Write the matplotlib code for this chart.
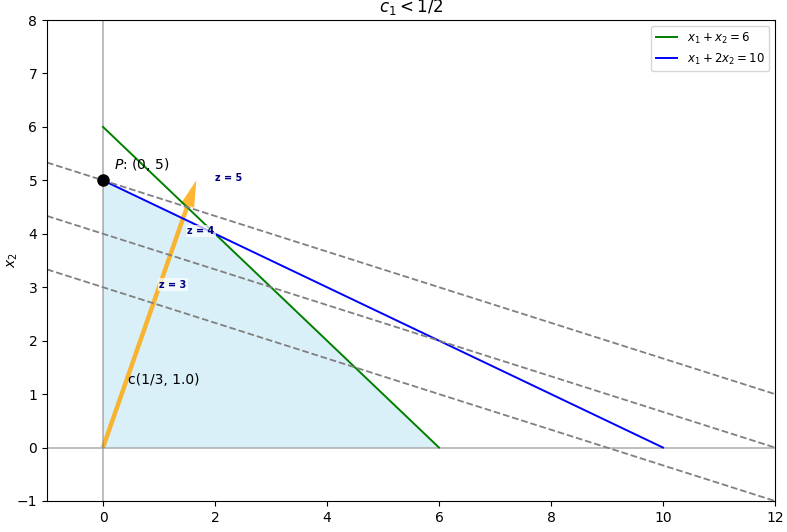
import numpy as np
import matplotlib
matplotlib.use("Agg")
import matplotlib.pyplot as plt

# objective c = (c1, c2), c1 < 1/2
c1, c2 = 1 / 3, 1.0
z_levels = [3, 4, 5]
z_label_x = [1.25, 1.75, 2.25]
z_label_y = [3.05, 4.05, 5.05]

# feasible region vertices
region_x = [0, 6, 2, 0]
region_y = [0, 0, 4, 5]

p_opt = (0, 5)

fig = plt.figure(figsize=(7.87, 5.32), dpi=100)
ax = fig.add_axes((47 / 787, 1 - 501 / 532, 728 / 787, 481 / 532))

ax.axhline(0, color="gray", linewidth=1.2, alpha=0.6)
ax.axvline(0, color="gray", linewidth=1.2, alpha=0.6)

ax.fill(region_x, region_y, color="skyblue", alpha=0.3, linewidth=0)

x_g = np.linspace(0, 6, 50)
ax.plot(x_g, 6 - x_g, color="green", linewidth=1.4, label=r"$x_1 + x_2 = 6$")
x_b = np.linspace(0, 10, 50)
ax.plot(x_b, (10 - x_b) / 2, color="blue", linewidth=1.4, label=r"$x_1 + 2x_2 = 10$")

x_all = np.linspace(-1, 12, 100)
for z, lx, ly in zip(z_levels, z_label_x, z_label_y):
    ax.plot(x_all, (z - c1 * x_all) / c2, color="gray", linestyle="--", linewidth=1.3)
    ax.text(lx, ly, f"z = {z}", color="navy", fontsize=7, fontweight="bold",
            ha="center", va="center",
            bbox=dict(facecolor="white", edgecolor="none", alpha=0.7, pad=1))

scale = 5
ax.arrow(0, 0, c1 * scale, c2 * scale, width=0.08, head_width=0.25, head_length=0.5,
         length_includes_head=True, color="orange", alpha=0.8, linewidth=0)
ax.text(0.45, 1.27, f"c({'1/3'}, {c2})", fontsize=10, va="center")

ax.plot(*p_opt, "o", color="black", markersize=8)
ax.text(0.2, 5.3, r"$P$: (0, 5)", fontsize=10, va="center")

ax.set_xlim(-1, 12)
ax.set_ylim(-1, 8)
ax.set_xlabel(r"$x_1$")
ax.set_ylabel(r"$x_2$", labelpad=-2)
ax.set_title(r"$c_1 < 1/2$", fontsize=12)
ax.legend(loc="upper right", fontsize=8.5, handlelength=1.8)

fig.savefig("out.png", dpi=100)
